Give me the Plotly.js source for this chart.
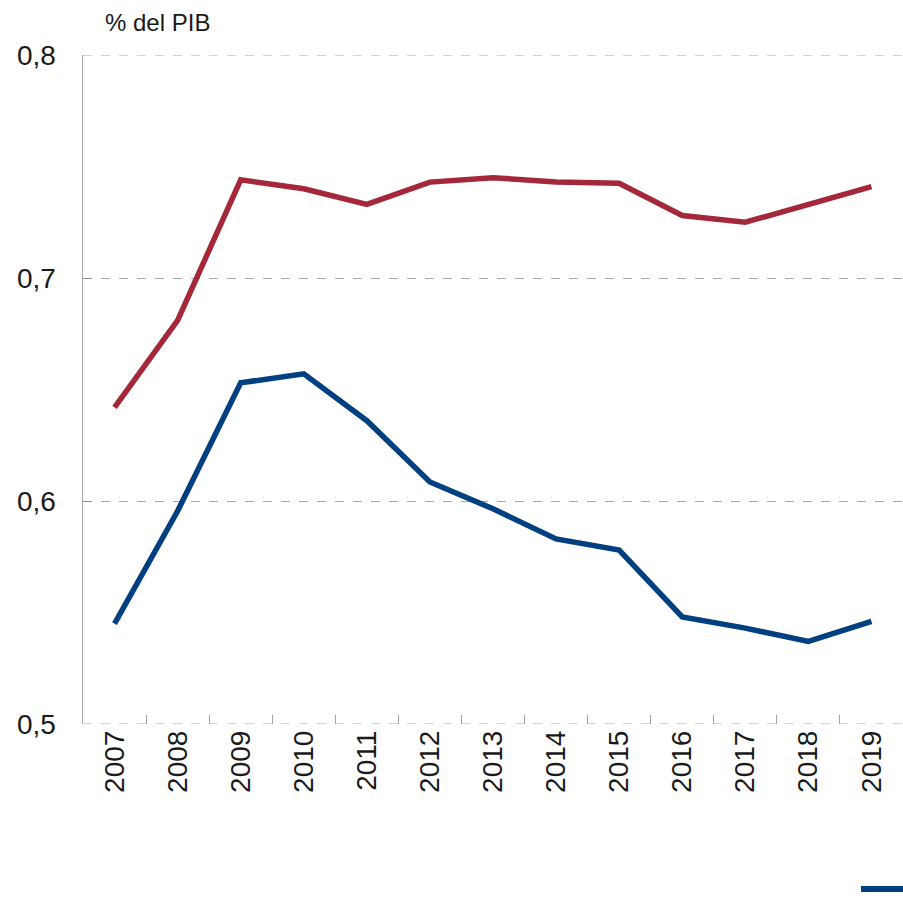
<!DOCTYPE html>
<html>
<head>
<meta charset="utf-8">
<script src="https://cdn.plot.ly/plotly-3.0.1.min.js"></script>
<style>
  html, body { margin: 0; padding: 0; background: #fff; }
  #chart { width: 903px; height: 904px; }
</style>
</head>
<body>
<div id="chart"></div>
<script>
// Years and series (% del PIB)
const years = ['2007', '2008', '2009', '2010', '2011', '2012', '2013',
  '2014', '2015', '2016', '2017', '2018', '2019'];
const redSeries = [0.642, 0.681, 0.744, 0.740, 0.733, 0.743, 0.745,
  0.743, 0.7425, 0.728, 0.725, 0.733, 0.741];
const blueSeries = [0.545, 0.5955, 0.653, 0.657, 0.636, 0.6085, 0.5965,
  0.583, 0.578, 0.548, 0.543, 0.537, 0.546];
const yTicks = [0.5, 0.6, 0.7, 0.8];

const red = {
  x: years, y: redSeries,
  type: 'scatter', mode: 'lines',
  line: { color: '#A4283A', width: 5.5 },
  showlegend: false
};
const blue = {
  x: years, y: blueSeries,
  type: 'scatter', mode: 'lines',
  line: { color: '#003F80', width: 5.5 },
  showlegend: false
};

// edge gridlines (plotly drops the ones sitting on the plot border)
const edgeGrid = [yTicks[0], yTicks[yTicks.length - 1]].map(v => ({
  type: 'line', xref: 'paper', yref: 'y', layer: 'below',
  x0: 0, x1: 1, y0: v, y1: v,
  line: { color: '#a8a8a8', width: 1, dash: 'dash' }
}));

const layout = {
  width: 903, height: 904,
  margin: { l: 83, r: 0, t: 55, b: 180 },
  paper_bgcolor: '#fff',
  plot_bgcolor: '#fff',
  separators: ',.',
  font: { family: 'Liberation Sans, Arial, sans-serif', color: '#1a1a1a' },
  title: {
    text: '% del PIB',
    font: { size: 24, color: '#1a1a1a' },
    xref: 'container', yref: 'container',
    x: 105 / 903, xanchor: 'left',
    y: 1 - 23 / 904, yanchor: 'middle'
  },
  xaxis: {
    type: 'category',
    range: [-0.5, 12.5],
    tickangle: -90,
    tickfont: { size: 28, color: '#1a1a1a' },
    ticks: 'inside', ticklen: 9, tickcolor: '#a0a0a0', tickwidth: 1,
    tickson: 'boundaries',
    showgrid: false,
    showline: false,
    zeroline: false,
    fixedrange: true
  },
  yaxis: {
    range: [0.5, 0.8],
    tickvals: yTicks,
    tickformat: '.1f',
    tickfont: { size: 28, color: '#1a1a1a' },
    ticks: 'inside', ticklen: 9, tickcolor: '#909090', tickwidth: 1,
    ticklabelstandoff: 20,
    showgrid: true, gridcolor: '#a8a8a8', griddash: 'dash', gridwidth: 1,
    showline: true, linecolor: '#a8a8a8', linewidth: 1.5,
    zeroline: false,
    fixedrange: true
  },
  shapes: edgeGrid.concat([{
    type: 'line', xref: 'paper', yref: 'paper',
    x0: (861 - 83) / 820, x1: 1.01,
    y0: -(889 - 724) / 669, y1: -(889 - 724) / 669,
    line: { color: '#003F80', width: 6 }
  }])
};

Plotly.newPlot('chart', [red, blue], layout, { displayModeBar: false, staticPlot: true });
</script>
</body>
</html>
